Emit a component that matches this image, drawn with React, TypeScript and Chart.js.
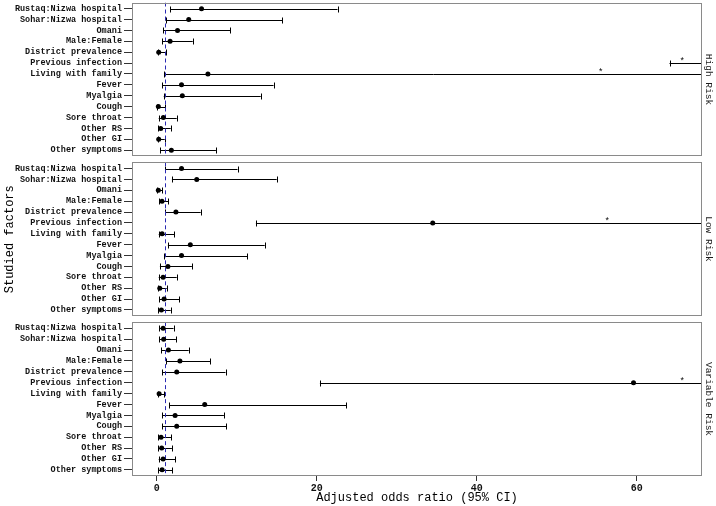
import React, { useEffect, useRef } from 'react';
import { Chart, registerables } from 'chart.js';
Chart.register(...registerables);

// ---- data ----
const factors = [
  'Rustaq:Nizwa hospital', 'Sohar:Nizwa hospital', 'Omani', 'Male:Female',
  'District prevalence', 'Previous infection', 'Living with family', 'Fever',
  'Myalgia', 'Cough', 'Sore throat', 'Other RS', 'Other GI', 'Other symptoms',
];
const panels = ['High Risk', 'Low Risk', 'Variable Risk'];

const highOR = [5.6, 4.0, 2.6, 1.67, 0.25, 160, 6.4, 3.1, 3.2, 0.2, 0.83, 0.5, 0.25, 1.83];
const highLower = [1.67, 1.1, 0.83, 0.67, 0.12, 64.1, 0.96, 0.7, 0.88, 0.08, 0.25, 0.2, 0.12, 0.45];
const highUpper = [22.6, 15.7, 9.2, 4.5, 1.1, 400, 110, 14.6, 13.0, 1.04, 2.5, 1.75, 1.0, 7.4];

const lowOR = [3.1, 5.0, 0.2, 0.66, 2.4, 34.5, 0.67, 4.2, 3.1, 1.4, 0.8, 0.38, 0.92, 0.58];
const lowLower = [1.08, 1.9, 0.05, 0.3, 1.08, 12.4, 0.25, 1.4, 0.96, 0.4, 0.25, 0.2, 0.33, 0.2];
const lowUpper = [10.1, 15.0, 0.66, 1.46, 5.5, 100, 2.2, 13.5, 11.3, 4.4, 2.5, 1.25, 2.8, 1.75];

const varOR = [0.8, 0.87, 1.46, 2.9, 2.5, 59.6, 0.3, 6.0, 2.3, 2.5, 0.54, 0.62, 0.8, 0.67];
const varLower = [0.3, 0.33, 0.54, 1.2, 0.7, 20.4, 0.12, 1.54, 0.7, 0.67, 0.2, 0.2, 0.25, 0.2];
const varUpper = [2.1, 2.4, 4.0, 6.7, 8.6, 170, 0.92, 23.7, 8.4, 8.7, 1.8, 1.9, 2.3, 1.96];

const asteriskPanel = ['High Risk', 'High Risk', 'Low Risk', 'Variable Risk'];
const asteriskFactor = ['Previous infection', 'Living with family', 'Previous infection', 'Previous infection'];
const asteriskX = [65.7, 55.5, 56.3, 65.7];

const xTicks = [0, 20, 40, 60];
const refValue = 1;
const xLimits = [-3.09, 68.16];

// ---- layout helpers (row positions on the y scale) ----
const EXPAND = 0.57;
const GAP = 0.55;
const PANEL = factors.length - 1 + 2 * EXPAND;
const Y_MAX = panels.length * PANEL + (panels.length - 1) * GAP;
const rowY = (p: number, i: number) => p * (PANEL + GAP) + EXPAND + i;

const panelOR = [highOR, lowOR, varOR];
const panelLower = [highLower, lowLower, varLower];
const panelUpper = [highUpper, lowUpper, varUpper];

const MONO = "'Liberation Mono', 'DejaVu Sans Mono', monospace";

const forestPlugin = {
  id: 'forest',
  beforeDatasetsDraw(chart: any) {
    const { ctx, chartArea, scales } = chart;
    const xs = scales.x, ys = scales.y;
    ctx.save();
    ctx.beginPath();
    ctx.rect(chartArea.left, chartArea.top, chartArea.right - chartArea.left, chartArea.bottom - chartArea.top);
    ctx.clip();
    // error bars
    ctx.strokeStyle = '#000';
    ctx.lineWidth = 1;
    panels.forEach((_, p) => {
      factors.forEach((__, i) => {
        const lo = panelLower[p][i], hi = panelUpper[p][i];
        const y = Math.round(ys.getPixelForValue(rowY(p, i))) + 0.5;
        const x0 = xs.getPixelForValue(Math.max(lo, xs.min));
        const x1 = xs.getPixelForValue(Math.min(hi, xs.max + 1));
        ctx.beginPath();
        ctx.moveTo(x0, y); ctx.lineTo(x1, y);
        if (lo >= xs.min && lo <= xs.max) {
          const xl = Math.round(xs.getPixelForValue(lo)) + 0.5;
          ctx.moveTo(xl, y - 3); ctx.lineTo(xl, y + 3);
        }
        if (hi >= xs.min && hi <= xs.max) {
          const xh = Math.round(xs.getPixelForValue(hi)) + 0.5;
          ctx.moveTo(xh, y - 3); ctx.lineTo(xh, y + 3);
        }
        ctx.stroke();
      });
    });
    // reference dashed line per panel
    ctx.strokeStyle = '#2a2ab4';
    ctx.setLineDash([4, 3]);
    const xr = Math.round(xs.getPixelForValue(refValue)) + 0.5;
    panels.forEach((_, p) => {
      const t = ys.getPixelForValue(rowY(p, 0) - EXPAND);
      const b = ys.getPixelForValue(rowY(p, factors.length - 1) + EXPAND);
      ctx.beginPath();
      ctx.moveTo(xr, t); ctx.lineTo(xr, b);
      ctx.stroke();
    });
    ctx.setLineDash([]);
    // asterisks
    ctx.fillStyle = '#000';
    ctx.font = `9px ${MONO}`;
    ctx.textAlign = 'center';
    ctx.textBaseline = 'alphabetic';
    asteriskX.forEach((ax, k) => {
      const p = panels.indexOf(asteriskPanel[k]);
      const i = factors.indexOf(asteriskFactor[k]);
      const y = ys.getPixelForValue(rowY(p, i));
      ctx.fillText('*', xs.getPixelForValue(ax), y + 1);
    });
    ctx.restore();
  },
  afterDraw(chart: any) {
    const { ctx, chartArea, scales } = chart;
    const ys = scales.y;
    ctx.save();
    // panel borders
    ctx.strokeStyle = '#8a8a8a';
    ctx.lineWidth = 1;
    panels.forEach((name, p) => {
      const t = Math.round(ys.getPixelForValue(rowY(p, 0) - EXPAND)) + 0.5;
      const b = Math.round(ys.getPixelForValue(rowY(p, factors.length - 1) + EXPAND)) - 0.5;
      const l = Math.round(chartArea.left) + 0.5;
      const r = Math.round(chartArea.right) - 0.5;
      ctx.strokeRect(l, t, r - l, b - t);
      // strip label
      ctx.save();
      ctx.translate(chartArea.right + 7, (t + b) / 2);
      ctx.rotate(Math.PI / 2);
      ctx.fillStyle = '#1a1a1a';
      ctx.font = `9.5px ${MONO}`;
      ctx.textAlign = 'center';
      ctx.textBaseline = 'middle';
      ctx.fillText(name, 0, 0);
      ctx.restore();
    });
    ctx.restore();
  },
};

export default function App() {
  const ref = useRef<HTMLCanvasElement | null>(null);
  useEffect(() => {
    if (!ref.current) return;
    const data: any[] = [];
    panels.forEach((_, p) => {
      factors.forEach((__, i) => {
        data.push({ x: panelOR[p][i], y: rowY(p, i) });
      });
    });
    const chart = new Chart(ref.current, {
      type: 'scatter',
      data: {
        datasets: [{
          data,
          pointRadius: 2.5,
          pointHoverRadius: 2.5,
          backgroundColor: '#000',
          borderColor: '#000',
          borderWidth: 0,
        }],
      },
      plugins: [forestPlugin],
      options: {
        responsive: false,
        animation: false,
        events: [],
        layout: { padding: { left: 0, top: 0, right: 14, bottom: 0 } },
        plugins: { legend: { display: false }, tooltip: { enabled: false } },
        scales: {
          x: {
            type: 'linear',
            min: xLimits[0],
            max: xLimits[1],
            afterBuildTicks: (s: any) => { s.ticks = xTicks.map((v) => ({ value: v })); },
            afterFit: (s: any) => { s.height = 30; s.paddingLeft = 0; s.paddingRight = 0; },
            grid: { drawOnChartArea: false, drawTicks: true, tickLength: 5, color: '#333' },
            border: { display: false },
            ticks: {
              autoSkip: false,
              padding: 1,
              color: '#111',
              font: { family: MONO, size: 10, weight: 'bold' },
              maxRotation: 0,
            },
            title: {
              display: true,
              text: 'Adjusted odds ratio (95% CI)',
              color: '#000',
              font: { family: MONO, size: 12 },
              padding: { top: 0, bottom: 1 },
            },
          },
          y: {
            type: 'linear',
            reverse: true,
            min: 0,
            max: Y_MAX,
            afterBuildTicks: (s: any) => {
              const t: any[] = [];
              panels.forEach((_, p) => factors.forEach((__, i) => t.push({ value: rowY(p, i) })));
              s.ticks = t;
            },
            afterFit: (s: any) => { s.width = 132; s.paddingTop = 0; s.paddingBottom = 0; },
            grid: { drawOnChartArea: false, drawTicks: true, tickLength: 8, color: '#333' },
            border: { display: false },
            ticks: {
              autoSkip: false,
              padding: 2,
              color: '#111',
              font: { family: MONO, size: 8.5, weight: 'bold' },
              callback: (_v: any, idx: number) => factors[idx % factors.length],
            },
            title: {
              display: true,
              text: 'Studied factors',
              color: '#000',
              font: { family: MONO, size: 12 },
              padding: { top: 3, bottom: 0 },
            },
          },
        },
      } as any,
    });
    return () => chart.destroy();
  }, []);
  return (
    <div style={{ position: 'absolute', left: 0, top: 0, width: 716, height: 506, background: '#fff' }}>
      <canvas ref={ref} width={716} height={506} style={{ display: 'block' }} />
    </div>
  );
}
